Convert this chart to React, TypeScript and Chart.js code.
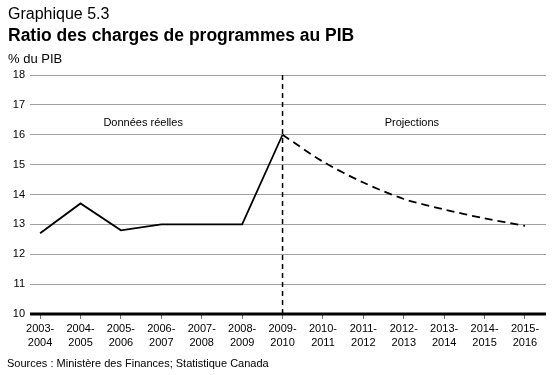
import React, { useEffect, useRef } from "react";
import { Chart, registerables } from "chart.js";

Chart.register(...registerables);

const startYears = [2003, 2004, 2005, 2006, 2007, 2008, 2009, 2010, 2011, 2012, 2013, 2014, 2015];
const tickLabels: string[][] = startYears.map((y) => [`${y}-`, `${y + 1}`]);
const actualValues = [12.7, 13.7, 12.8, 13.0, 13.0, 13.0, 16.0];
const projectionValues = [16.0, 15.1, 14.4, 13.85, 13.5, 13.2, 12.95];
const projectionStart = 6;
const yTicks = [10, 11, 12, 13, 14, 15, 16, 17, 18];

const titleSmall = "Graphique 5.3";
const titleBold = "Ratio des charges de programmes au PIB";
const unitLabel = "% du PIB";
const sourceText = "Sources : Ministère des Finances; Statistique Canada";
const actualLabel = "Données réelles";
const projLabel = "Projections";

const FONT = "'Liberation Sans', Arial, Helvetica, sans-serif";

const overlay = {
  id: "overlay",
  afterDatasetsDraw(chart: any) {
    const { ctx, chartArea, scales } = chart;
    const x = scales.x;
    const y = scales.y;
    ctx.save();
    const xd = x.getPixelForValue(projectionStart);
    ctx.strokeStyle = "#000";
    ctx.lineWidth = 1.5;
    ctx.setLineDash([5, 4]);
    ctx.beginPath();
    ctx.moveTo(xd, chartArea.top);
    ctx.lineTo(xd, chartArea.bottom);
    ctx.stroke();
    ctx.setLineDash([]);
    ctx.fillStyle = "#000";
    ctx.font = `11px ${FONT}`;
    ctx.textAlign = "center";
    ctx.textBaseline = "middle";
    ctx.fillText(actualLabel, x.getPixelForValue(2.55), y.getPixelForValue(16.38));
    ctx.fillText(projLabel, x.getPixelForValue(9.2), y.getPixelForValue(16.38));
    ctx.lineWidth = 3;
    ctx.beginPath();
    ctx.moveTo(chartArea.left, y.getPixelForValue(10));
    ctx.lineTo(chartArea.right, y.getPixelForValue(10));
    ctx.stroke();
    ctx.restore();
  },
  afterDraw(chart: any) {
    const { ctx } = chart;
    ctx.save();
    ctx.fillStyle = "#000";
    ctx.textAlign = "left";
    ctx.textBaseline = "alphabetic";
    ctx.font = `16px ${FONT}`;
    ctx.fillText(titleSmall, 8, 19);
    ctx.font = `bold 17.5px ${FONT}`;
    ctx.fillText(titleBold, 8, 41);
    ctx.font = `13px ${FONT}`;
    ctx.fillText(unitLabel, 8, 63);
    ctx.font = `11px ${FONT}`;
    ctx.fillText(sourceText, 7, 367);
    ctx.restore();
  },
};

export default function App() {
  const ref = useRef<HTMLCanvasElement>(null);
  useEffect(() => {
    document.body.style.margin = "0";
    const chart = new Chart(ref.current!, {
      type: "line",
      data: {
        datasets: [
          {
            data: actualValues.map((v, i) => ({ x: i, y: v })),
            borderColor: "#000",
            borderWidth: 1.8,
            pointRadius: 0,
            tension: 0,
          },
          {
            data: projectionValues.map((v, i) => ({ x: i + projectionStart, y: v })),
            borderColor: "#000",
            borderWidth: 1.8,
            borderDash: [8, 5],
            pointRadius: 0,
            tension: 0.3,
          },
        ],
      },
      options: {
        animation: false,
        responsive: false,
        devicePixelRatio: 1,
        layout: { padding: { top: 75, right: 14, left: 0, bottom: 0 } },
        plugins: { legend: { display: false }, tooltip: { enabled: false } },
        scales: {
          x: {
            type: "linear",
            min: -0.25,
            max: 12.52,
            afterBuildTicks: (axis: any) => {
              axis.ticks = startYears.map((_, i) => ({ value: i }));
            },
            afterFit: (axis: any) => {
              axis.height = 61;
            },
            ticks: {
              autoSkip: false,
              maxRotation: 0,
              padding: 3,
              color: "#000",
              font: { size: 11, family: FONT, lineHeight: 1.25 },
              callback: (v: any) => tickLabels[v] ?? "",
            },
            grid: {
              drawOnChartArea: false,
              drawTicks: true,
              tickLength: 5,
              color: "#777",
            },
            border: { display: false },
          },
          y: {
            min: 10,
            max: 18,
            afterBuildTicks: (axis: any) => {
              axis.ticks = yTicks.map((v) => ({ value: v }));
            },
            afterFit: (axis: any) => {
              axis.width = 30;
            },
            ticks: {
              color: "#000",
              padding: 5,
              font: { size: 11, family: FONT },
            },
            grid: {
              drawTicks: false,
              color: "#a0a0a0",
              lineWidth: 1,
            },
            border: { display: false },
          },
        },
      },
      plugins: [overlay],
    });
    return () => chart.destroy();
  }, []);
  return <canvas ref={ref} width={560} height={375} style={{ display: "block" }} />;
}
